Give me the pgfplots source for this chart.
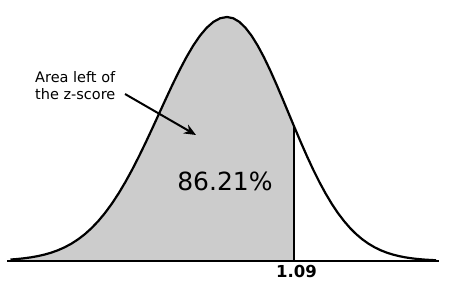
\documentclass[border=0pt]{standalone}
\usepackage{pgfplots}
\pgfplotsset{compat=1.18}
\usepackage{fontspec}
\setmainfont{DejaVu Sans}
\usetikzlibrary{arrows.meta}
\definecolor{shade}{RGB}{204,204,204}
\begin{document}
\begin{tikzpicture}[x=1pt,y=1pt]
\useasboundingbox (0,0) rectangle (450,287);
\begin{axis}[at={(7pt,26pt)}, anchor=south west, scale only axis,
  width=432pt, height=244pt, xmin=-3.577, xmax=3.447, ymin=0, ymax=0.398942,
  hide axis, clip=false]
% shaded area left of z = 1.09
\addplot[fill=shade, draw=none] coordinates {
(-3.52,0.002384)(-3.41,0.003267)
(-3.30,0.004432)(-3.19,0.005953)(-3.08,0.007915)(-2.97,0.010421)(-2.86,0.013583)
(-2.75,0.017528)(-2.64,0.022395)(-2.53,0.028327)(-2.42,0.035475)(-2.31,0.043984)
(-2.20,0.053991)(-2.09,0.065616)(-1.98,0.078950)(-1.87,0.094049)(-1.76,0.110921)
(-1.65,0.129518)(-1.54,0.149727)(-1.43,0.171369)(-1.32,0.194186)(-1.21,0.217852)
(-1.10,0.241971)(-0.99,0.266085)(-0.88,0.289692)(-0.77,0.312254)(-0.66,0.333225)
(-0.55,0.352065)(-0.44,0.368270)(-0.33,0.381388)(-0.22,0.391043)(-0.11,0.396953)
(0.0,0.398942)(0.1,0.396953)(0.2,0.391043)(0.3,0.381388)(0.4,0.368270)
(0.5,0.352065)(0.6,0.333225)(0.7,0.312254)(0.8,0.289692)(0.9,0.266085)
(1.0,0.241971)(1.09,0.220250)(1.09,0)(-3.52,0)
} -- cycle;
% curve
\addplot[black, line width=2.2pt, line join=round] coordinates {
(-3.52,0.002384)(-3.41,0.003267)
(-3.30,0.004432)(-3.19,0.005953)(-3.08,0.007915)(-2.97,0.010421)(-2.86,0.013583)
(-2.75,0.017528)(-2.64,0.022395)(-2.53,0.028327)(-2.42,0.035475)(-2.31,0.043984)
(-2.20,0.053991)(-2.09,0.065616)(-1.98,0.078950)(-1.87,0.094049)(-1.76,0.110921)
(-1.65,0.129518)(-1.54,0.149727)(-1.43,0.171369)(-1.32,0.194186)(-1.21,0.217852)
(-1.10,0.241971)(-0.99,0.266085)(-0.88,0.289692)(-0.77,0.312254)(-0.66,0.333225)
(-0.55,0.352065)(-0.44,0.368270)(-0.33,0.381388)(-0.22,0.391043)(-0.11,0.396953)
(0.0,0.398942)(0.1,0.396953)(0.2,0.391043)(0.3,0.381388)(0.4,0.368270)
(0.5,0.352065)(0.6,0.333225)(0.7,0.312254)(0.8,0.289692)(0.9,0.266085)
(1.0,0.241971)(1.1,0.217852)(1.2,0.194186)(1.3,0.171369)(1.4,0.149727)
(1.5,0.129518)(1.6,0.110921)(1.7,0.094049)(1.8,0.078950)(1.9,0.065616)
(2.0,0.053991)(2.1,0.043984)(2.2,0.035475)(2.3,0.028327)(2.4,0.022395)
(2.5,0.017528)(2.6,0.013583)(2.7,0.010421)(2.8,0.007915)(2.9,0.005953)
(3.0,0.004432)(3.1,0.003267)(3.2,0.002384)(3.3,0.001723)(3.4,0.001232)
};
% vertical line at z = 1.09
\addplot[black, line width=2pt] coordinates {(1.09,0)(1.09,0.220250)};
% baseline
\addplot[black, line width=2pt] coordinates {(-3.577,0)(3.447,0)};
\end{axis}
\node[anchor=base west, inner sep=0pt, font=\fontsize{14.5}{17}\selectfont] at (35,204) {Area left of};
\node[anchor=base west, inner sep=0pt, font=\fontsize{14.5}{17}\selectfont] at (35,187) {the z-score};
\draw[line width=2pt, -{Stealth[length=12pt,width=10pt]}] (125,193) -- (196,152);
\node[anchor=base, inner sep=0pt, font=\fontsize{25}{30}\selectfont] at (225,97) {86.21\%};
\node[anchor=base, inner sep=0pt, font=\fontsize{16.5}{20}\selectfont\bfseries] at (296.5,10) {1.09};
\end{tikzpicture}
\end{document}
